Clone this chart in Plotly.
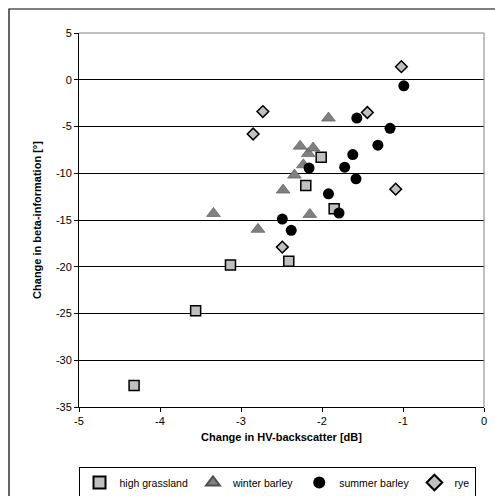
import plotly.graph_objects as go

grass_x = [-4.32, -3.56, -3.13, -2.41, -2.20, -2.01, -1.85]
grass_y = [-32.7, -24.7, -19.8, -19.4, -11.3, -8.3, -13.8]
winter_x = [-3.34, -2.79, -2.48, -2.34, -2.27, -2.23, -2.17, -2.15, -2.11, -1.92]
winter_y = [-14.3, -16.0, -11.8, -10.2, -7.1, -9.1, -7.9, -14.4, -7.3, -4.1]
summer_x = [-2.49, -2.38, -2.16, -1.92, -1.79, -1.72, -1.62, -1.58, -1.57, -1.31, -1.16, -0.99]
summer_y = [-14.9, -16.1, -9.45, -12.2, -14.25, -9.35, -8.0, -10.6, -4.1, -7.0, -5.2, -0.65]
rye_x = [-2.85, -2.73, -2.49, -1.44, -1.09, -1.02]
rye_y = [-5.8, -3.4, -17.9, -3.5, -11.7, 1.4]

x_tickvals = [-5, -4, -3, -2, -1, 0]
x_ticktext = ["-5", "-4", "-3", "-2", "-1", "0"]
y_tickvals = [5, 0, -5, -10, -15, -20, -25, -30, -35]
y_ticktext = ["5", "0", "-5", "-10", "-15", "-20", "-25", "-30", "-35"]

FONT = "Liberation Sans, Arial, sans-serif"
L, R, T, B = 79, 11, 33, 89
PW = 495 - L - R
PH = 496 - T - B

fig = go.Figure()
fig.add_trace(go.Scatter(x=grass_x, y=grass_y, mode="markers", name="high grassland",
                         marker=dict(symbol="square", size=10, color="#C0C0C0",
                                     line=dict(color="black", width=1.5))))
fig.add_trace(go.Scatter(x=winter_x, y=winter_y, mode="markers", name="winter barley",
                         marker=dict(symbol="triangle-up", size=12, color="#808080",
                                     line=dict(color="#505050", width=0.6))))
fig.add_trace(go.Scatter(x=summer_x, y=summer_y, mode="markers", name="summer barley",
                         marker=dict(symbol="circle", size=11, color="black",
                                     line=dict(color="black", width=0))))
fig.add_trace(go.Scatter(x=rye_x, y=rye_y, mode="markers", name="rye",
                         marker=dict(symbol="diamond", size=9, color="#C0C0C0",
                                     line=dict(color="black", width=1.5))))

fig.update_layout(
    width=495, height=496,
    margin=dict(l=L, r=R, t=T, b=B, autoexpand=False),
    paper_bgcolor="white", plot_bgcolor="white",
    font=dict(family=FONT, size=11, color="black"),
    showlegend=True,
    legend=dict(orientation="h", x=(277 - L) / PW, xanchor="center",
                y=-(467 - (T + PH)) / PH, yanchor="top",
                bordercolor="black", borderwidth=1, font=dict(size=10.5, family=FONT),
                itemwidth=30, tracegroupgap=0, itemsizing="constant"),
    xaxis=dict(range=[-5, 0], tickvals=x_tickvals, ticktext=x_ticktext,
               showgrid=False, zeroline=False,
               showline=True, linecolor="black", linewidth=1,
               ticks="outside", ticklen=4, tickcolor="black",
               title=dict(text="<b>Change in HV-backscatter [dB]</b>", standoff=7,
                          font=dict(size=11, family=FONT))),
    yaxis=dict(range=[-35, 5], tickvals=y_tickvals, ticktext=y_ticktext,
               showgrid=True, gridcolor="black", gridwidth=1,
               zeroline=False, showline=True, linecolor="black", linewidth=1,
               ticks="outside", ticklen=4, tickcolor="black",
               title=dict(text="<b>Change in beta-information [°]</b>", standoff=12,
                          font=dict(size=11, family=FONT))),
    shapes=[
        dict(type="line", xref="paper", yref="paper", x0=0, x1=1, y0=1, y1=1,
             line=dict(color="#808080", width=1)),
        dict(type="line", xref="paper", yref="paper", x0=1, x1=1, y0=0, y1=1,
             line=dict(color="#808080", width=1)),
        dict(type="rect", xref="paper", yref="paper",
             x0=(9 - L) / PW, x1=(520 - L) / PW,
             y0=((T + PH) - 520) / PH, y1=((T + PH) - 9) / PH,
             line=dict(color="black", width=1.2), fillcolor="rgba(0,0,0,0)", layer="below"),
    ],
)

fig.write_html("out.html", config={"displayModeBar": False},
               post_script="document.body.style.margin='0';document.body.style.overflow='hidden';")
